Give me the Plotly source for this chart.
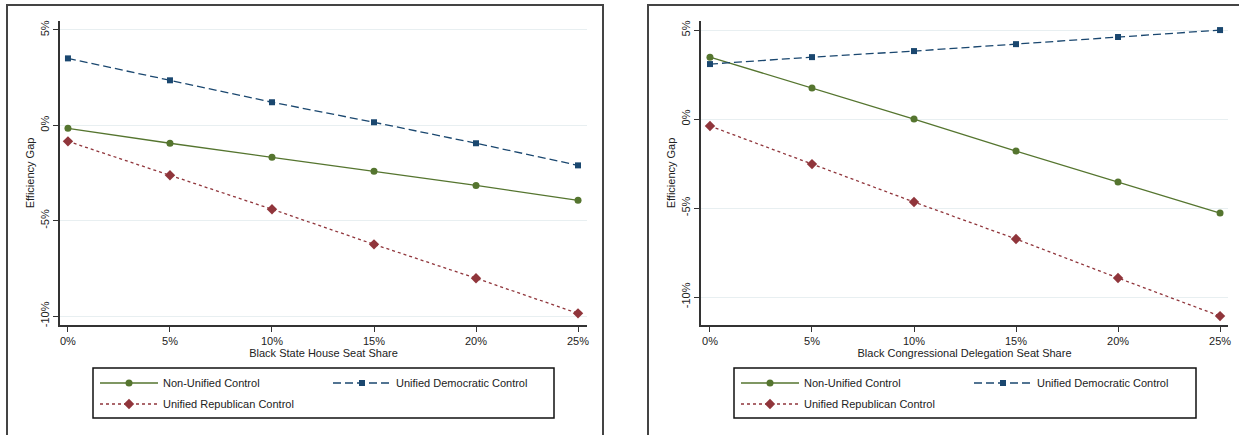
import plotly.graph_objects as go

# ---- data ----
shares = [0, 5, 10, 15, 20, 25]
x_ticktext = ["0%", "5%", "10%", "15%", "20%", "25%"]
left_nonunified = [-0.16, -0.94, -1.68, -2.41, -3.15, -3.93]
left_dem = [3.51, 2.36, 1.21, 0.16, -0.94, -2.10]
left_rep = [-0.84, -2.62, -4.40, -6.24, -8.02, -9.86]
right_nonunified = [3.48, 1.74, 0.00, -1.80, -3.54, -5.28]
right_dem = [3.09, 3.48, 3.82, 4.21, 4.61, 5.00]
right_rep = [-0.39, -2.53, -4.66, -6.74, -8.93, -11.07]
y_ticks = [-10, -5, 0, 5]
y_ticktext = ["-10%", "-5%", "0%", "5%"]
series_names = ["Non-Unified Control", "Unified Democratic Control", "Unified Republican Control"]

W, H = 1239, 435
GREEN, NAVY, MAROON = "#55752f", "#1a476f", "#90353b"
FONT = "Liberation Sans, Arial, sans-serif"

def px(x):
    return x / W

def py(y):
    return 1 - y / H

fig = go.Figure()

styles = [
    dict(color=GREEN, dash="solid", symbol="circle", size=7),
    dict(color=NAVY, dash="8px,4px", symbol="square", size=6),
    dict(color=MAROON, dash="3px,3px", symbol="diamond", size=8),
]

panels = [
    ("x", "y", [left_nonunified, left_dem, left_rep], ["legend", "legend", "legend2"]),
    ("x2", "y2", [right_nonunified, right_dem, right_rep], ["legend3", "legend3", "legend4"]),
]
for xa, ya, series, legs in panels:
    for name, vals, st, lg in zip(series_names, series, styles, legs):
        fig.add_trace(go.Scatter(
            x=shares, y=vals, name=name, mode="lines+markers",
            xaxis=xa, yaxis=ya, legend=lg,
            line=dict(color=st["color"], width=1.3, dash=st["dash"]),
            marker=dict(color=st["color"], symbol=st["symbol"], size=st["size"]),
        ))

axis_common = dict(
    showline=True, linecolor="#333333", linewidth=1.5,
    ticks="outside", ticklen=5, tickwidth=1.2, tickcolor="#333333",
    zeroline=False, tickfont=dict(size=11, color="#222222", family=FONT),
)

fig.update_layout(
    width=W, height=H,
    margin=dict(l=0, r=0, t=0, b=0, autoexpand=False),
    paper_bgcolor="white", plot_bgcolor="white",
    font=dict(family=FONT, size=11, color="#222222"),
    xaxis=dict(domain=[px(60), px(587)], range=[-0.39, 25.44], anchor="y",
               tickvals=shares, ticktext=x_ticktext, showgrid=False,
               title=dict(text="Black State House Seat Share", standoff=0,
                          font=dict(size=11)), **axis_common),
    yaxis=dict(domain=[py(325), py(21)], range=[-10.47, 5.47], anchor="x",
               tickvals=y_ticks, ticktext=y_ticktext, tickangle=-90,
               showgrid=True, gridcolor="#e8eff1", gridwidth=1,
               title=dict(text="Efficiency Gap", standoff=2, font=dict(size=11)),
               **axis_common),
    xaxis2=dict(domain=[px(701), px(1228)], range=[-0.44, 25.39], anchor="y2",
                tickvals=shares, ticktext=x_ticktext, showgrid=False,
                title=dict(text="Black Congressional Delegation Seat Share", standoff=0,
                           font=dict(size=11)), **axis_common),
    yaxis2=dict(domain=[py(325), py(21)], range=[-11.57, 5.51], anchor="x2",
                tickvals=y_ticks, ticktext=y_ticktext, tickangle=-90,
                showgrid=True, gridcolor="#e8eff1", gridwidth=1,
                title=dict(text="Efficiency Gap", standoff=2, font=dict(size=11)),
                **axis_common),
)

leg_common = dict(orientation="h", bgcolor="rgba(0,0,0,0)", borderwidth=0,
                  itemwidth=58, entrywidth=160, entrywidthmode="pixels",
                  xanchor="left", yanchor="middle", font=dict(size=11, family=FONT),
                  traceorder="normal")
fig.update_layout(
    legend=dict(x=px(95), y=py(383), **leg_common),
    legend2=dict(x=px(95), y=py(404), **leg_common),
    legend3=dict(x=px(736), y=py(383), **leg_common),
    legend4=dict(x=px(736), y=py(404), **leg_common),
)

shapes = [
    # panel frames
    dict(type="rect", xref="paper", yref="paper", x0=px(7), x1=px(603), y0=-0.05, y1=py(5),
         line=dict(color="#444444", width=2), fillcolor="rgba(0,0,0,0)", layer="below"),
    dict(type="rect", xref="paper", yref="paper", x0=px(648), x1=1.05, y0=-0.05, y1=py(5),
         line=dict(color="#444444", width=2), fillcolor="rgba(0,0,0,0)", layer="below"),
    # legend boxes
    dict(type="rect", xref="paper", yref="paper", x0=px(93), x1=px(554), y0=py(418), y1=py(368),
         line=dict(color="#111111", width=1.5), fillcolor="rgba(0,0,0,0)"),
    dict(type="rect", xref="paper", yref="paper", x0=px(734), x1=px(1196), y0=py(418), y1=py(368),
         line=dict(color="#111111", width=1.5), fillcolor="rgba(0,0,0,0)"),
]
fig.update_layout(shapes=shapes)

fig.write_html("out.html")
